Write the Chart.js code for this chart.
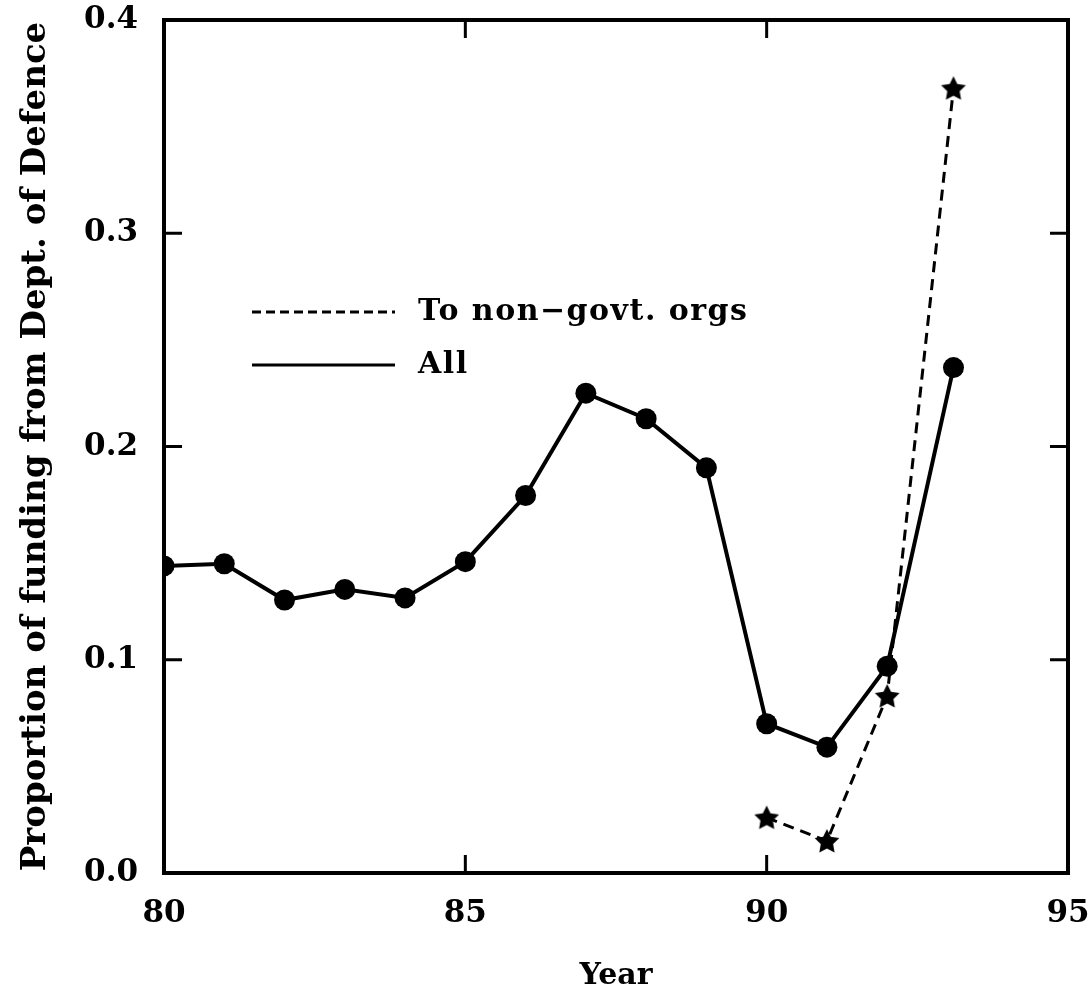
<!DOCTYPE html>
<html>
<head>
<meta charset="utf-8">
<script src="https://cdn.jsdelivr.net/npm/chart.js@4.4.1/dist/chart.umd.min.js"></script>
<style>
  html, body { margin: 0; padding: 0; background: #fff; }
  #wrap { width: 1090px; height: 1004px; }
</style>
</head>
<body>
<div id="wrap"><canvas id="chart"></canvas></div>
<script>
// values
const allYears = [80, 81, 82, 83, 84, 85, 86, 87, 88, 89, 90, 91, 92, 93.1];
const allValues = [0.144, 0.145, 0.128, 0.133, 0.129, 0.146, 0.177, 0.225, 0.213, 0.190, 0.070, 0.059, 0.097, 0.237];
const ngoYears = [90, 91, 92, 93.1];
const ngoValues = [0.026, 0.015, 0.083, 0.368];
const xTicks = [80, 85, 90, 95];
const yTicks = [0.0, 0.1, 0.2, 0.3, 0.4];

const serif = "'DejaVu Serif', 'Liberation Serif', serif";

// filled five point star for the dashed series
function makeStar(size) {
  const c = document.createElement("canvas");
  c.width = size;
  c.height = size;
  const g = c.getContext("2d");
  const r1 = size / 2, r2 = size / 4;
  g.beginPath();
  for (let i = 0; i < 10; i++) {
    const r = i % 2 === 0 ? r1 : r2;
    const a = -Math.PI / 2 + i * Math.PI / 5;
    g.lineTo(size / 2 + r * Math.cos(a), size / 2 + r * Math.sin(a) + 1);
  }
  g.closePath();
  g.fillStyle = "#000";
  g.fill();
  return c;
}
const star = makeStar(26);

// box round the plot with inward ticks on all four sides
const framePlugin = {
  id: "frame",
  afterDraw(chart) {
    const {ctx, chartArea: a, scales} = chart;
    const len = 18;
    ctx.save();
    ctx.strokeStyle = "#000";
    ctx.lineWidth = 3;
    xTicks.forEach((v) => {
      const px = scales.x.getPixelForValue(v);
      ctx.beginPath();
      ctx.moveTo(px, a.bottom);
      ctx.lineTo(px, a.bottom - len);
      ctx.moveTo(px, a.top);
      ctx.lineTo(px, a.top + len);
      ctx.stroke();
    });
    yTicks.forEach((v) => {
      const py = scales.y.getPixelForValue(v);
      ctx.beginPath();
      ctx.moveTo(a.left, py);
      ctx.lineTo(a.left + len, py);
      ctx.moveTo(a.right, py);
      ctx.lineTo(a.right - len, py);
      ctx.stroke();
    });
    ctx.lineWidth = 4;
    ctx.strokeRect(a.left, a.top, a.right - a.left, a.bottom - a.top);
    ctx.restore();
  },
};

// legend sits inside the plot, lines only, no markers
const legendPlugin = {
  id: "innerLegend",
  afterDraw(chart) {
    const {ctx, chartArea: a} = chart;
    const x0 = a.left + 88, x1 = a.left + 231, tx = a.left + 254;
    let y = a.top + 292;
    ctx.save();
    ctx.font = "bold 30px " + serif;
    ctx.letterSpacing = "1.5px";
    ctx.fillStyle = "#000";
    ctx.textBaseline = "middle";
    [1, 0].forEach((i) => {
      const ds = chart.data.datasets[i];
      ctx.beginPath();
      ctx.setLineDash(i === 1 ? [9, 5] : []);
      ctx.lineWidth = 3;
      ctx.strokeStyle = "#000";
      ctx.moveTo(x0, y);
      ctx.lineTo(x1, y);
      ctx.stroke();
      ctx.setLineDash([]);
      ctx.fillText(ds.label, tx, y);
      y += 53;
    });
    ctx.restore();
  },
};

new Chart(document.getElementById("chart"), {
  type: "line",
  data: {
    datasets: [
      {
        label: "All",
        data: allYears.map((x, i) => ({x: x, y: allValues[i]})),
        borderColor: "#000",
        backgroundColor: "#000",
        borderWidth: 4,
        pointRadius: 10.5,
        pointHoverRadius: 10.5,
        pointBackgroundColor: "#000",
        pointBorderWidth: 0,
        tension: 0,
      },
      {
        label: "To non\u2212govt. orgs",
        data: ngoYears.map((x, i) => ({x: x, y: ngoValues[i]})),
        borderColor: "#000",
        backgroundColor: "#000",
        borderWidth: 3,
        borderDash: [11, 7],
        pointStyle: star,
        pointRadius: 13,
        tension: 0,
      },
    ],
  },
  options: {
    responsive: true,
    maintainAspectRatio: false,
    animation: false,
    devicePixelRatio: 1,
    layout: {
      padding: {left: 0, right: 22, top: 20, bottom: 0},
    },
    plugins: {
      legend: {display: false},
      tooltip: {enabled: false},
    },
    scales: {
      x: {
        type: "linear",
        min: 80,
        max: 95,
        afterFit: (s) => {
          s.height = 131;
          s.paddingLeft = 0;
          s.paddingRight = 0;
        },
        afterBuildTicks: (s) => { s.ticks = xTicks.map((v) => ({value: v})); },
        grid: {display: false, drawTicks: false},
        border: {display: false},
        ticks: {
          color: "#000",
          padding: 22,
          font: {family: serif, size: 31, weight: "bold"},
        },
        title: {
          display: true,
          text: "Year",
          color: "#000",
          padding: 10,
          font: {family: serif, size: 30, weight: "bold"},
        },
      },
      y: {
        min: 0,
        max: 0.4,
        afterFit: (s) => {
          s.width = 164;
          s.paddingTop = 0;
          s.paddingBottom = 0;
        },
        afterBuildTicks: (s) => { s.ticks = yTicks.map((v) => ({value: v})); },
        grid: {display: false, drawTicks: false},
        border: {display: false},
        ticks: {
          color: "#000",
          padding: 26,
          font: {family: serif, size: 31, weight: "bold"},
          callback: (v) => v.toFixed(1),
        },
        title: {
          display: true,
          text: "Proportion of funding from Dept. of Defence",
          color: "#000",
          padding: {top: 16, bottom: 0},
          font: {family: serif, size: 34, weight: "bold"},
        },
      },
    },
  },
  plugins: [framePlugin, legendPlugin],
});
</script>
</body>
</html>
